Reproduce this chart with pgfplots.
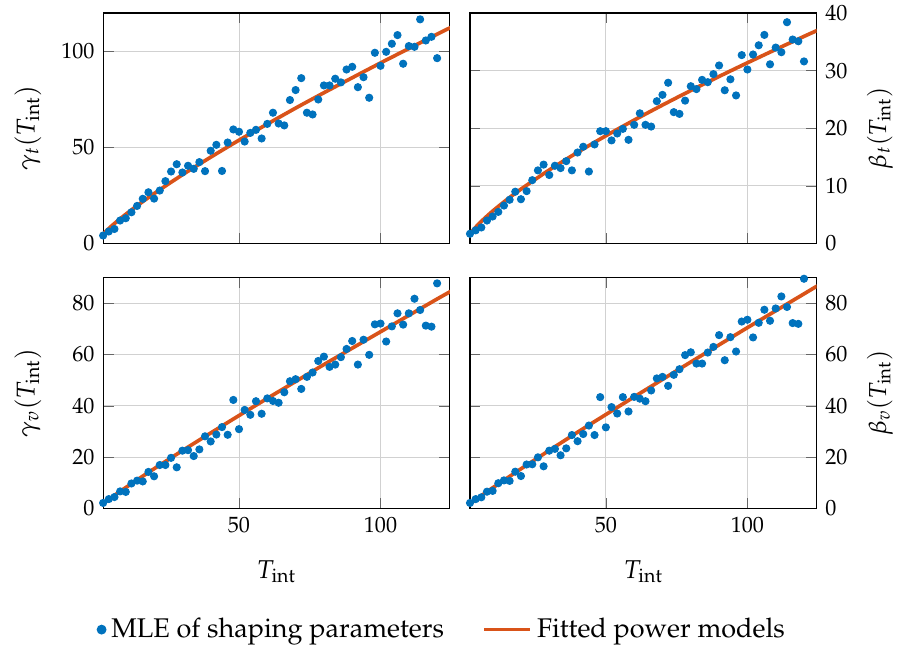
\documentclass[border=0pt]{standalone}
\usepackage[T1]{fontenc}
\usepackage{mathpazo}
\usepackage{pgfplots}
\usepgfplotslibrary{groupplots}
\usetikzlibrary{calc}
\pgfplotsset{compat=1.18}
\usepackage{pgfplotstable}
\definecolor{mblue}{rgb}{0,0.447,0.741}
\definecolor{morange}{rgb}{0.85,0.325,0.098}

\pgfplotstableread{
x gt bt gv bv
2 4.2 1.7 2.1 2.1
4 6.3 2.3 3.6 3.6
6 7.6 2.8 4.4 4.3
8 12.0 4.0 6.6 6.5
10 13.2 4.7 6.4 6.8
12 16.3 5.5 9.7 9.8
14 19.6 6.6 10.8 10.9
16 23.3 7.6 10.5 10.7
18 26.7 9.0 14.2 14.3
20 23.4 7.7 12.5 12.6
22 27.6 9.1 16.9 17.1
24 32.5 11.0 16.9 17.2
26 37.5 12.7 19.7 19.9
28 41.3 13.7 16.0 16.4
30 37.0 11.9 22.5 22.5
32 40.5 13.5 22.7 23.2
34 38.9 13.1 20.4 20.7
36 42.4 14.3 23.0 23.4
38 37.7 12.7 28.1 28.6
40 48.3 15.8 26.1 26.2
42 51.4 16.8 28.8 29.0
44 37.8 12.5 31.7 32.3
46 52.6 17.2 28.7 28.6
48 59.4 19.5 42.3 43.4
50 58.2 19.5 30.9 31.6
52 53.1 17.9 38.4 39.5
54 57.6 19.1 36.5 37.0
56 59.2 19.9 41.8 43.4
58 54.7 18.0 36.9 37.8
60 62.3 20.6 42.9 43.5
62 68.1 22.6 41.9 42.8
64 62.5 20.6 41.2 41.8
66 61.5 20.3 45.3 46.0
68 74.7 24.7 49.6 50.7
70 79.9 25.8 50.4 51.3
72 86.1 27.9 46.6 47.8
74 68.1 22.8 51.3 52.1
76 67.2 22.5 53.0 54.3
78 75.0 24.8 57.5 59.8
80 82.3 27.3 59.2 60.9
82 82.3 26.8 55.2 56.5
84 85.8 28.4 56.1 56.5
86 83.9 28.0 59.0 60.8
88 90.6 29.4 62.2 63.0
90 92.0 30.9 65.3 67.6
92 81.4 26.6 56.1 57.8
94 86.6 28.5 65.8 66.8
96 75.9 25.7 59.9 61.2
98 99.3 32.7 71.8 72.9
100 92.5 30.2 72.1 73.6
102 99.8 32.8 65.1 66.7
104 104.0 34.4 71.0 72.4
106 108.5 36.2 76.1 77.5
108 93.6 31.1 71.7 73.2
110 102.8 34.0 76.1 78.0
112 102.4 33.2 81.8 82.7
114 116.7 38.4 77.4 78.6
116 105.7 35.4 71.3 72.3
118 107.6 35.1 70.9 72.0
120 96.5 31.6 87.8 89.6
}\mle

\pgfplotstableread{
x gt bt gv bv
2 4.95 1.69 1.81 1.75
3 6.43 2.29 2.64 2.56
5 9.16 3.36 4.25 4.15
7 11.68 4.31 5.82 5.69
10 15.25 5.63 8.10 8.00
15 20.79 7.62 11.8 11.7
20 26.0 9.44 15.44 15.4
30 35.8 12.77 22.5 22.6
40 44.97 15.83 29.4 29.7
50 53.8 18.70 36.2 36.6
60 62.2 21.42 42.9 43.5
70 70.5 24.03 49.5 50.3
80 78.5 26.55 56.1 57.1
90 86.3 28.99 62.5 63.8
100 94.0 31.36 68.9 70.5
110 101.5 33.67 75.3 77.1
120 109.0 35.94 81.7 83.7
125 112.6 37.05 84.8 87.0
}\fit

\begin{document}
\begin{tikzpicture}
\begin{groupplot}[
  group style={group size=2 by 2, horizontal sep=8.2pt, vertical sep=13.9pt},
  scale only axis, width=141.2pt, height=93.9pt,
  xmin=2, xmax=124.5, xtick={50,100},
  grid=major, major grid style={black!18, line width=0.4pt},
  tick align=inside, tick style={black!60}, axis line style={black, line width=0.5pt},
  ticklabel style={font=\small},
  label style={font=\fontsize{10.5}{12}\selectfont},
  xlabel style={at={(axis description cs:0.5,-0.274)}, anchor=center},
]
\nextgroupplot[ymin=0, ymax=120, ytick={0,50,100}, xticklabels={},
  ylabel style={at={(axis description cs:-0.217,0.5)}, anchor=center},
  ylabel={$\gamma_t(T_{\mathrm{int}})$}]
\addplot[only marks, mark=*, mark size=1.45pt, color=mblue] table[x=x,y=gt]{\mle};
\addplot[morange, line width=1.5pt, smooth] table[x=x,y=gt]{\fit};

\nextgroupplot[ymin=0, ymax=40, ytick={0,10,20,30,40}, xticklabels={},
  yticklabel pos=right, ylabel near ticks,
  ylabel style={at={(axis description cs:1.182,0.5)}, anchor=center},
  ylabel={$\beta_t(T_{\mathrm{int}})$}]
\addplot[only marks, mark=*, mark size=1.45pt, color=mblue] table[x=x,y=bt]{\mle};
\addplot[morange, line width=1.5pt, smooth] table[x=x,y=bt]{\fit};

\nextgroupplot[ymin=0, ymax=90, ytick={0,20,40,60,80},
  xlabel={$T_{\mathrm{int}}$},
  ylabel style={at={(axis description cs:-0.217,0.5)}, anchor=center},
  ylabel={$\gamma_v(T_{\mathrm{int}})$},
  legend style={at={(0.981,-0.526)}, anchor=center, draw=none, fill=none,
    font=\fontsize{11}{13}\selectfont,
    legend columns=2, /tikz/every even column/.append style={column sep=13.6pt}},
  legend cell align=left]
\addplot[only marks, mark=*, mark size=1.45pt, color=mblue,
  legend image code/.code={\fill[mblue] (0.25cm,0cm) circle (1.8pt);}] table[x=x,y=gv]{\mle};
\addlegendentry{MLE of shaping parameters}
\addplot[morange, line width=1.5pt, smooth,
  legend image code/.code={\draw[morange, line width=1.5pt] (0cm,0cm) -- (0.66cm,0cm);}] table[x=x,y=gv]{\fit};
\addlegendentry{Fitted power models}

\nextgroupplot[ymin=0, ymax=90, ytick={0,20,40,60,80},
  xlabel={$T_{\mathrm{int}}$},
  yticklabel pos=right, ylabel near ticks,
  ylabel style={at={(axis description cs:1.182,0.5)}, anchor=center},
  ylabel={$\beta_v(T_{\mathrm{int}})$}]
\addplot[only marks, mark=*, mark size=1.45pt, color=mblue] table[x=x,y=bv]{\mle};
\addplot[morange, line width=1.5pt, smooth] table[x=x,y=bv]{\fit};
\end{groupplot}
\pgfresetboundingbox
\path[use as bounding box] ($(group c1r1.north west)+(-42pt,5.3pt)$) rectangle ($(group c2r2.south east)+(33.1pt,-56.3pt)$);
\end{tikzpicture}
\end{document}
